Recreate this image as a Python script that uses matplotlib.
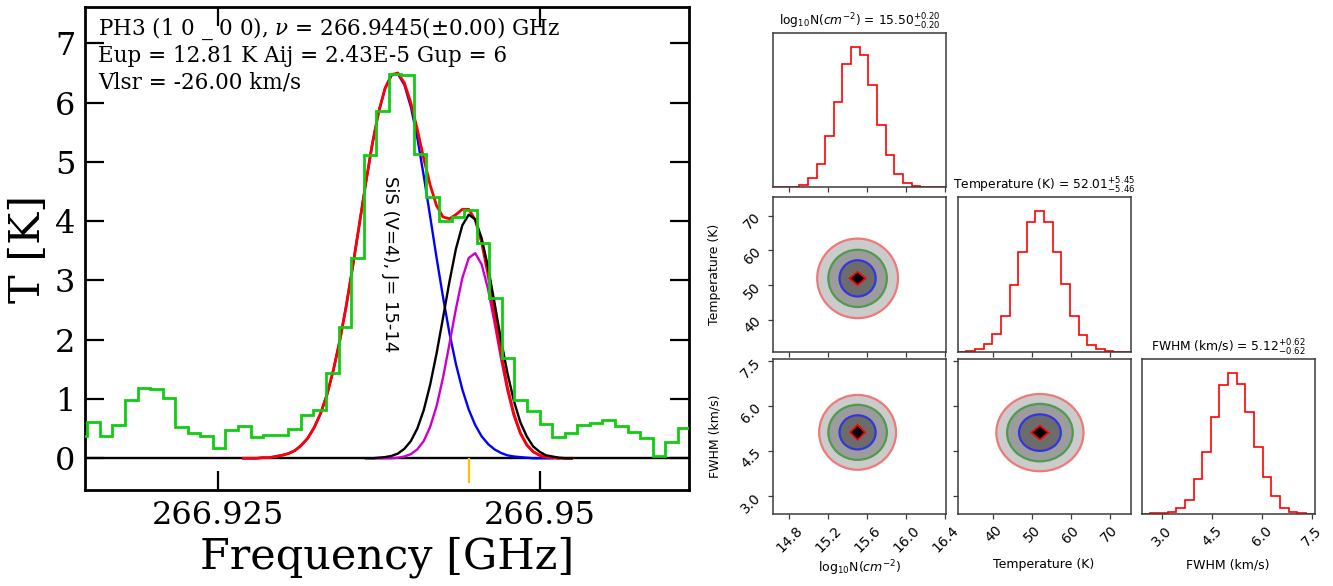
import numpy as np
import matplotlib
matplotlib.use("Agg")
import matplotlib.pyplot as plt
from matplotlib.patches import Ellipse, Polygon

# ---------------- spectrum data ----------------
chan_f0 = 266.913899      # left edge of first channel (GHz)
chan_df = 0.0009756       # channel width (GHz)
obs_T = [0.37, 0.61, 0.37, 0.56, 0.99, 1.19, 1.17, 1.02, 0.52, 0.42,
         0.37, 0.17, 0.47, 0.54, 0.36, 0.40, 0.40, 0.50, 0.73, 0.82,
         1.44, 2.22, 3.37, 5.12, 5.86, 6.49, 6.46, 5.14, 4.41, 4.00,
         4.07, 4.18, 3.63, 2.70, 1.69, 0.99, 0.80, 0.57, 0.36, 0.42,
         0.56, 0.60, 0.64, 0.54, 0.45, 0.35, 0.04, 0.28, 0.51]

model_df = 0.0005
red_f0 = 266.9270
red_T = [0.00, 0.00, 0.00, 0.01, 0.01, 0.03, 0.05, 0.08, 0.13, 0.22,
         0.34, 0.52, 0.76, 1.08, 1.50, 2.00, 2.59, 3.25, 3.94, 4.64,
         5.29, 5.84, 6.24, 6.47, 6.50, 6.33, 6.00, 5.55, 5.06, 4.61,
         4.26, 4.07, 4.04, 4.11, 4.20, 4.20, 4.02, 3.64, 3.09, 2.43,
         1.78, 1.20, 0.75, 0.43, 0.23, 0.11, 0.05, 0.02, 0.01, 0.00,
         0.00, 0.00]
blue_f0 = 266.9270
blue_T = [0.00, 0.00, 0.00, 0.01, 0.01, 0.03, 0.05, 0.08, 0.13, 0.22,
          0.34, 0.52, 0.76, 1.08, 1.50, 2.00, 2.59, 3.25, 3.94, 4.64,
          5.29, 5.84, 6.24, 6.46, 6.48, 6.30, 5.93, 5.41, 4.77, 4.08,
          3.38, 2.72, 2.11, 1.59, 1.16, 0.82, 0.56, 0.37, 0.24, 0.15,
          0.09, 0.05, 0.03, 0.02, 0.01, 0.00, 0.00, 0.00, 0.00]
black_f0 = 266.9365
black_T = [0.00, 0.00, 0.01, 0.02, 0.04, 0.08, 0.16, 0.29, 0.50, 0.81,
           1.24, 1.77, 2.37, 2.98, 3.53, 3.93, 4.11, 4.03, 3.71, 3.22,
           2.62, 2.00, 1.44, 0.97, 0.61, 0.37, 0.20, 0.11, 0.05, 0.03,
           0.01, 0.00, 0.00]
magenta_f0 = 266.9370
magenta_T = [0.00, 0.00, 0.00, 0.00, 0.01, 0.03, 0.07, 0.15, 0.29, 0.53,
             0.88, 1.36, 1.93, 2.52, 3.04, 3.38, 3.46, 3.27, 2.85, 2.29,
             1.69, 1.15, 0.72, 0.42, 0.22, 0.11, 0.05, 0.02, 0.01, 0.00]
line_freq = 266.9445
spec_xticks = [266.925, 266.95]
spec_xticklabels = ["266.925", "266.95"]
spec_yticks = [0, 1, 2, 3, 4, 5, 6, 7]
header_lines = ["PH3 (1 0 _ 0 0), $\\nu$ = 266.9445(±0.00) GHz",
                "Eup = 12.81 K Aij = 2.43E-5 Gup = 6",
                "Vlsr = -26.00 km/s"]
sis_label = "SiS (V=4), J= 15-14"

# ---------------- corner (posterior) data ----------------
param_labels = [r"log$_{10}$N($cm^{-2}$)", "Temperature (K)", "FWHM (km/s)"]
medians = [15.50, 52.01, 5.12]
err_plus = [0.20, 5.45, 0.62]
err_minus = [0.20, 5.46, 0.62]
ranges = [(14.636, 16.407), (30.85, 75.40), (2.405, 7.57)]
hist_logN = [0, 1, 2, 8, 28, 70, 153, 254, 368, 420,
             395, 306, 185, 98, 41, 13, 4, 1, 0, 0]
hist_T = [0, 2, 9, 22, 53, 108, 200, 300, 388, 422,
          388, 300, 203, 108, 50, 20, 7, 2, 0, 0]
hist_FWHM = [0, 1, 2, 6, 16, 41, 103, 186, 289, 384,
             421, 388, 303, 199, 111, 53, 18, 6, 2, 0]
ticks_logN = [14.8, 15.2, 15.6, 16.0, 16.4]
ticks_T = [40, 50, 60, 70]
ticks_FWHM = [3.0, 4.5, 6.0, 7.5]

# 2-D credible contours (outer -> inner): centre and half-extent per level
cont_NT_center = (15.50, 51.95)
cont_NT_hx = [0.414, 0.300, 0.185, 0.082]
cont_NT_hy = [11.46, 8.25, 5.22, 1.90]
cont_NF_center = (15.50, 5.12)
cont_NF_hx = [0.394, 0.300, 0.185, 0.076]
cont_NF_hy = [1.25, 0.92, 0.57, 0.25]
cont_TF_center = (52.05, 5.11)
cont_TF_hx = [11.24, 8.47, 5.39, 2.21]
cont_TF_hy = [1.29, 0.96, 0.61, 0.23]

# ---------------- figure ----------------
W, H = 1333, 586
fig = plt.figure(figsize=(W / 100, H / 100), dpi=100)
fig.patch.set_facecolor("white")

serif = "DejaVu Serif"
ax = fig.add_axes([85 / W, 1 - 490 / H, 604 / W, 482.7 / H])

def grid(f0, vals):
    return f0 + model_df * np.arange(len(vals))

edges = chan_f0 + chan_df * np.arange(len(obs_T) + 1)
ax.axhline(0, color="black", lw=1.7, zorder=1)
ax.plot(grid(blue_f0, blue_T), blue_T, color="#0000ff", lw=1.7, zorder=2)
ax.plot(grid(magenta_f0, magenta_T), magenta_T, color="#cc00cc", lw=1.7, zorder=3)
ax.plot(grid(red_f0, red_T), red_T, color="#ff0000", lw=2.0, zorder=4)
ax.plot(grid(black_f0, black_T), black_T, color="black", lw=1.7, zorder=5)
ax.stairs(obs_T, edges, baseline=None, color="#11cc11", lw=2.0, zorder=6)
ax.vlines(line_freq, -0.42, 0.0, color="#ffc000", lw=1.6, zorder=7)

ax.set_xlim(266.9147, 266.9616)
ax.set_ylim(-0.535, 7.607)
ax.set_xticks(spec_xticks)
ax.set_xticklabels(spec_xticklabels)
ax.set_yticks(spec_yticks)
ax.tick_params(direction="in", length=13.5, width=1.6, top=True, right=True,
               labelsize=23, pad=7)
for lab in ax.get_xticklabels() + ax.get_yticklabels():
    lab.set_fontfamily(serif)
for s in ax.spines.values():
    s.set_linewidth(2.0)
ax.set_xlabel("Frequency [GHz]", fontsize=31, fontfamily=serif, labelpad=4)
ax.set_ylabel("T [K]", fontsize=31, fontfamily=serif, labelpad=4)

for i, (txt, yb) in enumerate(zip(header_lines, [0.9426, 0.886, 0.8322])):
    ax.text(0.0215, yb, txt, transform=ax.transAxes, fontsize=15.5,
            fontfamily=serif, math_fontfamily="dejavuserif", va="baseline",
            ha="left", zorder=8)
ax.text(266.9384, 3.28, sis_label, rotation=270, fontsize=13,
        fontfamily="DejaVu Sans", ha="center", va="center", zorder=8)

# ---------------- corner plot ----------------
col_left = [773.3, 957.7, 1141.7]
row_top = [32.7, 197.0, 359.0]
cw, ch = 172.8, 154.6

def cax(r, c):
    return fig.add_axes([col_left[c] / W, 1 - (row_top[r] + ch) / H, cw / W, ch / H])

hists = [hist_logN, hist_T, hist_FWHM]
ticks = [ticks_logN, ticks_T, ticks_FWHM]
tick_fmt = ["{:.1f}", "{:.0f}", "{:.1f}"]
spine_col = "#3a3a3a"
tfs = 10
lfs = 9

def style(a):
    for s in a.spines.values():
        s.set_color(spine_col)
        s.set_linewidth(1.1)
    a.tick_params(labelsize=tfs, color=spine_col, length=3.5, width=0.9)

for k in range(3):
    a = cax(k, k)
    lo, hi = ranges[k]
    e = np.linspace(lo, hi, len(hists[k]) + 1)
    a.stairs(hists[k], e, color="red", lw=1.2)
    a.set_xlim(lo, hi)
    a.set_ylim(0, 1.1 * max(hists[k]))
    a.set_yticks([])
    a.set_xticks(ticks[k])
    style(a)
    title = "{} = ${:.2f}_{{-{:.2f}}}^{{+{:.2f}}}$".format(
        param_labels[k], medians[k], err_minus[k], err_plus[k])
    a.set_title(title, fontsize=8.8, fontfamily="DejaVu Sans",
                math_fontfamily="dejavusans", pad=5)
    if k < 2:
        a.set_xticklabels([])
    else:
        a.set_xticklabels([tick_fmt[k].format(t) for t in ticks[k]], rotation=45)
        a.set_xlabel(param_labels[k], fontsize=lfs, math_fontfamily="dejavusans")
        a.xaxis.set_label_coords(0.5, -0.29)

fills = ["#cbcbcb", "#9c9c9c", "#6c6c6c", "black"]
edgecols = ["#f07878", "#4f9a4f", "#3535dd", "red"]

def contours(a, center, hx, hy):
    for lvl in range(len(hx)):
        if lvl < len(hx) - 1:
            p = Ellipse(center, 2 * hx[lvl], 2 * hy[lvl], facecolor=fills[lvl],
                        edgecolor=edgecols[lvl], lw=1.6, zorder=2 + lvl)
        else:
            cx, cy = center
            p = Polygon([(cx - hx[lvl], cy), (cx, cy + hy[lvl]),
                         (cx + hx[lvl], cy), (cx, cy - hy[lvl])], closed=True,
                        facecolor=fills[lvl], edgecolor=edgecols[lvl], lw=1.2,
                        zorder=2 + lvl)
        a.add_patch(p)

panels = [(1, 0, cont_NT_center, cont_NT_hx, cont_NT_hy),
          (2, 0, cont_NF_center, cont_NF_hx, cont_NF_hy),
          (2, 1, cont_TF_center, cont_TF_hx, cont_TF_hy)]
for r, c, cen, hx, hy in panels:
    a = cax(r, c)
    contours(a, cen, hx, hy)
    a.set_xlim(*ranges[c])
    a.set_ylim(*ranges[r])
    a.set_xticks(ticks[c])
    a.set_yticks(ticks[r])
    style(a)
    if r == 2:
        a.set_xticklabels([tick_fmt[c].format(t) for t in ticks[c]], rotation=45)
        a.set_xlabel(param_labels[c], fontsize=lfs, math_fontfamily="dejavusans")
        a.xaxis.set_label_coords(0.5, -0.29)
    else:
        a.set_xticklabels([])
    if c == 0:
        a.set_yticklabels([tick_fmt[r].format(t) for t in ticks[r]], rotation=45)
        a.set_ylabel(param_labels[r], fontsize=lfs, math_fontfamily="dejavusans")
        a.yaxis.set_label_coords(-0.30, 0.5)
    else:
        a.set_yticklabels([])

fig.savefig("out.png", dpi=100, facecolor="white")
